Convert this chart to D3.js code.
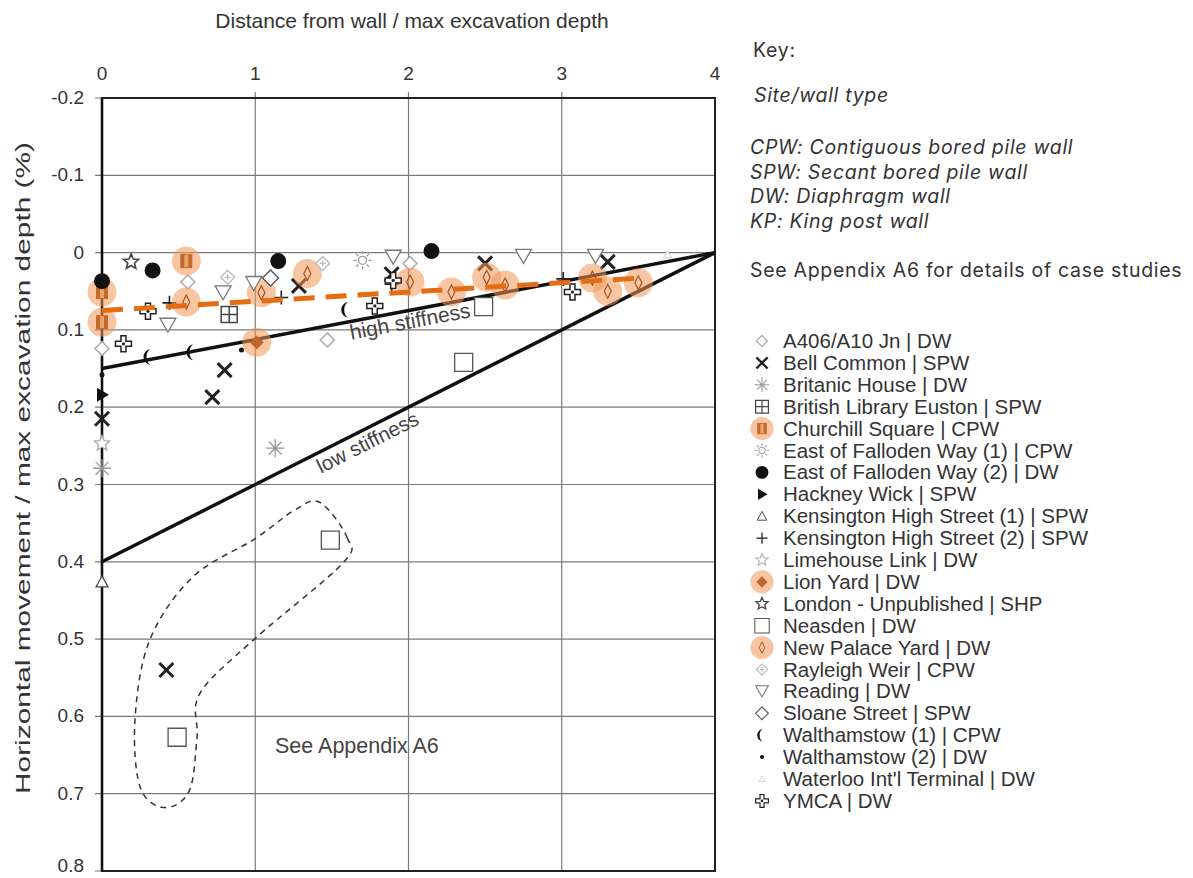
<!DOCTYPE html>
<html>
<head>
<meta charset="utf-8">
<script src="https://cdn.jsdelivr.net/npm/d3@7"></script>
<style>
body { margin: 0; background: #fff; }
text { fill: #333; }
</style>
</head>
<body>
<script>
// tick values
var xTicks = [0, 1, 2, 3, 4];
var yTicks = [-0.2, -0.1, 0, 0.1, 0.2, 0.3, 0.4, 0.5, 0.6, 0.7, 0.8];

// case study points: [distance / depth, movement / depth (%)]
var a406 = [[0.56, 0.038], [1.47, 0.113], [2.01, 0.014], [0, 0.124]];
var bellCommon = [[1.285, 0.043], [1.89, 0.028], [2.50, 0.014], [3.30, 0.012], [0.80, 0.152], [0.72, 0.187], [0, 0.215], [0.42, 0.54]];
var britanicHouse = [[1.13, 0.253], [0, 0.279]];
var britishLibrary = [[0.83, 0.08]];
var churchillSquare = [[0.55, 0.011], [0, 0.051], [0, 0.09]];
var fallodenCpw = [[1.70, 0.01]];
var fallodenDw = [[0.33, 0.023], [1.15, 0.011], [2.15, -0.002], [0, 0.037]];
var hackneyWick = [[0, 0.184]];
var kensington1 = [[0, 0.426]];
var kensington2 = [[0.44, 0.065], [1.17, 0.058], [3.01, 0.034], [1.89, 0.041]];
var limehouse = [[0, 0.247]];
var lionYard = [[1.01, 0.116]];
var londonUnpub = [[0.19, 0.012]];
var neasden = [[2.49, 0.07], [2.36, 0.142], [1.49, 0.372], [0.49, 0.627]];
var newPalaceYard = [[0.55, 0.064], [1.04, 0.052], [1.34, 0.027], [2.01, 0.038], [2.28, 0.051], [2.51, 0.032], [2.63, 0.042], [3.20, 0.033], [3.30, 0.05], [3.50, 0.039]];
var rayleighWeir = [[1.44, 0.014], [0.82, 0.032]];
var reading = [[0.43, 0.094], [0.79, 0.052], [0.99, 0.04], [1.90, 0.006], [2.75, 0.005], [3.22, 0.005]];
var sloaneStreet = [[1.10, 0.033]];
var walthamstow1 = [[0.31, 0.135], [0.59, 0.129], [1.60, 0.074]];
var walthamstow2 = [[0.91, 0.126], [0, 0.158]];
var waterloo = [[3.69, 0.003]];
var ymca = [[0.14, 0.118], [0.30, 0.076], [1.78, 0.069], [3.07, 0.051], [1.90, 0.036]];

var siteNames = ["A406/A10 Jn | DW", "Bell Common | SPW", "Britanic House | DW", "British Library Euston | SPW",
  "Churchill Square | CPW", "East of Falloden Way (1) | CPW", "East of Falloden Way (2) | DW", "Hackney Wick | SPW",
  "Kensington High Street (1) | SPW", "Kensington High Street (2) | SPW", "Limehouse Link | DW", "Lion Yard | DW",
  "London - Unpublished | SHP", "Neasden | DW", "New Palace Yard | DW", "Rayleigh Weir | CPW", "Reading | DW",
  "Sloane Street  | SPW", "Walthamstow (1) | CPW", "Walthamstow (2) | DW", "Waterloo Int'l Terminal | DW", "YMCA | DW"];
var siteData = [a406, bellCommon, britanicHouse, britishLibrary, churchillSquare, fallodenCpw, fallodenDw, hackneyWick,
  kensington1, kensington2, limehouse, lionYard, londonUnpub, neasden, newPalaceYard, rayleighWeir, reading,
  sloaneStreet, walthamstow1, walthamstow2, waterloo, ymca];
var siteMarkers = ["diamondLight", "cross", "asterisk", "gridSquare", "haloSquare", "sun", "dot", "triRight",
  "triUp", "plus", "starLight", "haloDiamond", "starDark", "square", "haloThin", "diamondCross", "triDown",
  "diamondDark", "crescent", "smallDot", "triTiny", "clover"];

// reference lines
var stiffX = [0, 4];
var highStiffY = [0.15, 0];
var lowStiffY = [0.4, 0];
var trendX = [0, 3.5];
var trendY = [0.075, 0.033];
// outline round the outliers (see Appendix A6)
var loopPts = [[1.42, 0.323], [1.60, 0.369], [1.57, 0.402], [1.0, 0.499], [0.64, 0.570], [0.62, 0.627],
  [0.57, 0.696], [0.41, 0.718], [0.25, 0.692], [0.215, 0.605], [0.31, 0.502], [0.59, 0.420], [1.0, 0.370], [1.25, 0.334]];

var keyLines = ["CPW: Contiguous bored pile wall", "SPW: Secant bored pile wall", "DW: Diaphragm wall", "KP: King post wall"];

var W = 1193, H = 878;
var x = d3.scaleLinear().domain([0, 4]).range([102, 715]);
var y = d3.scaleLinear().domain([-0.2, 0.8]).range([98, 871]);

var svg = d3.select("body").append("svg")
    .attr("width", W)
    .attr("height", H)
    .style("font-family", "'Liberation Sans', Arial, sans-serif");

// grid
svg.append("g").selectAll("line").data(xTicks.slice(1, 4)).enter().append("line")
    .attr("x1", function(d) { return x(d); }).attr("x2", function(d) { return x(d); })
    .attr("y1", y(-0.2) - 6).attr("y2", y(0.8))
    .style("stroke", "#7a7a7a").style("stroke-width", 1.2);
svg.append("g").selectAll("line").data(yTicks).enter().append("line")
    .attr("x1", x(0) - 7).attr("x2", x(4))
    .attr("y1", function(d) { return y(d); }).attr("y2", function(d) { return y(d); })
    .style("stroke", "#7a7a7a").style("stroke-width", 1.2);

// frame
svg.append("rect")
    .attr("x", x(0)).attr("y", y(-0.2))
    .attr("width", x(4) - x(0)).attr("height", y(0.8) - y(-0.2))
    .style("fill", "none").style("stroke", "#222").style("stroke-width", 2);
svg.append("line")
    .attr("x1", x(0)).attr("x2", x(0)).attr("y1", y(-0.2)).attr("y2", y(0.8))
    .style("stroke", "#111").style("stroke-width", 2.6);

// tick labels
svg.append("g").selectAll("text").data(xTicks).enter().append("text")
    .attr("x", function(d) { return x(d); }).attr("y", 80)
    .attr("text-anchor", "middle").style("font-size", "19px")
    .text(function(d) { return d; });
svg.append("g").selectAll("text").data(yTicks).enter().append("text")
    .attr("x", 84).attr("y", function(d) { return Math.min(y(d) + 6, 872); })
    .attr("text-anchor", "end").style("font-size", "19px")
    .text(function(d) { return d === 0 ? "0" : d.toFixed(1); });

// axis titles
svg.append("text").attr("x", 412).attr("y", 28).attr("text-anchor", "middle")
    .style("font-size", "21px").text("Distance from wall / max excavation depth");
svg.append("text").attr("transform", "translate(30,468) rotate(-90)").attr("text-anchor", "middle")
    .attr("textLength", 652).attr("lengthAdjust", "spacingAndGlyphs")
    .style("font-size", "20px").text("Horizontal movement / max excavation depth (%)");

// stiffness lines
var line = d3.line().x(function(d) { return x(d[0]); }).y(function(d) { return y(d[1]); });
[highStiffY, lowStiffY].forEach(function(ys) {
    svg.append("path")
        .datum(d3.zip(stiffX, ys))
        .attr("d", line)
        .style("fill", "none").style("stroke", "#111").style("stroke-width", 3.5);
});

// outlier loop
svg.append("path")
    .datum(loopPts)
    .attr("d", d3.line().x(function(d) { return x(d[0]); }).y(function(d) { return y(d[1]); }).curve(d3.curveCardinalClosed))
    .style("fill", "none").style("stroke", "#333").style("stroke-width", 1.5).style("stroke-dasharray", "6,5");

// line labels
function lineLabel(txt, x0, ys, off, fs) {
    var y0 = ys[0] + (ys[1] - ys[0]) * x0 / 4;
    var ang = Math.atan2(y(ys[1]) - y(ys[0]), x(4) - x(0)) * 180 / Math.PI;
    svg.append("text")
        .attr("transform", "translate(" + x(x0) + "," + y(y0) + ") rotate(" + ang + ")")
        .attr("y", off)
        .style("font-size", fs + "px").style("fill", "#444")
        .text(txt);
}
lineLabel("high stiffness", 1.605, highStiffY, 18, 21);
lineLabel("low stiffness", 1.37, lowStiffY, 20, 20.5);

svg.append("text").attr("x", 275).attr("y", 753)
    .style("font-size", "21.5px").style("fill", "#444").text("See Appendix A6");

// marker shapes
function starPath(r) {
    var p = [];
    for (var i = 0; i < 10; i++) {
        var rr = i % 2 === 0 ? r : r * 0.45;
        var a = -Math.PI / 2 + i * Math.PI / 5;
        p.push([rr * Math.cos(a), rr * Math.sin(a)]);
    }
    return "M" + p.join("L") + "Z";
}
var HALO = "rgba(242,150,85,0.55)";
function drawMarker(g, type) {
    function path(d, fill, stroke, sw) {
        g.append("path").attr("d", d).style("fill", fill || "none")
            .style("stroke", stroke || "none").style("stroke-width", sw || 1);
    }
    function halo() { g.append("circle").attr("r", 14.5).style("fill", HALO); }
    switch (type) {
    case "diamondLight": path("M0,-7L7,0L0,7L-7,0Z", "#fff", "#aaa", 1.5); break;
    case "cross": path("M-7,-7L7,7M7,-7L-7,7", null, "#222", 3); break;
    case "asterisk": path("M-9,0H9M0,-9V9M-6.4,-6.4L6.4,6.4M6.4,-6.4L-6.4,6.4", null, "#999", 1.3); break;
    case "gridSquare": path("M-8,-8H8V8H-8ZM0,-8V8M-8,0H8", "#fff", "#444", 1.5); break;
    case "haloSquare":
        halo();
        g.append("rect").attr("x", -6).attr("y", -7).attr("width", 12).attr("height", 14).style("fill", "#c26a2c");
        g.append("rect").attr("x", -2).attr("y", -6).attr("width", 4).attr("height", 12).style("fill", "#e9a368");
        break;
    case "sun":
        g.append("circle").attr("r", 4).style("fill", "#fff").style("stroke", "#999").style("stroke-width", 1.3);
        path("M0,-6V-9M0,6V9M-6,0H-9M6,0H9M-4.2,-4.2L-6.4,-6.4M4.2,4.2L6.4,6.4M4.2,-4.2L6.4,-6.4M-4.2,4.2L-6.4,6.4", null, "#999", 1.3);
        break;
    case "dot": g.append("circle").attr("r", 8).style("fill", "#111"); break;
    case "triRight": path("M-5,-7L7,0L-5,7Z", "#111"); break;
    case "triUp": path("M0,-6L6,5H-6Z", "#fff", "#444", 1.2); break;
    case "plus": path("M-7,0H7M0,-7V7", null, "#222", 1.6); break;
    case "starLight": path(starPath(8), "#fff", "#aaa", 1.3); break;
    case "haloDiamond": halo(); path("M0,-7L7,0L0,7L-7,0Z", "#c0642a"); break;
    case "starDark": path(starPath(8), "#fff", "#444", 1.6); break;
    case "square": path("M-9,-9H9V9H-9Z", "#fff", "#555", 1.3); break;
    case "haloThin": halo(); path("M0,-7L3.5,0L0,7L-3.5,0Z", "none", "#a5521c", 1.2); break;
    case "diamondCross": path("M0,-7L7,0L0,7L-7,0ZM-3,0H3M0,-3V3", "#fff", "#bbb", 1.4); break;
    case "triDown": path("M-8,-7H8L0,7Z", "#fff", "#777", 1.3); break;
    case "diamondDark": path("M0,-8L8,0L0,8L-8,0Z", "#fff", "#555", 1.4); break;
    case "crescent": path("M2,-8A8,8 0 1,0 2,8A5,8 0 1,1 2,-8Z", "#111"); break;
    case "smallDot": g.append("circle").attr("r", 2.5).style("fill", "#111"); break;
    case "triTiny": path("M0,-4L4,3H-4Z", "#fff", "#ccc", 1); break;
    case "clover":
        path("M-2.5,-8H2.5V-2.5H8V2.5H2.5V8H-2.5V2.5H-8V-2.5H-2.5Z", "#fff", "#222", 1.5);
        g.append("circle").attr("r", 1.6).style("fill", "#222");
        break;
    }
}

// points
siteData.forEach(function(pts, i) {
    svg.append("g").selectAll("g").data(pts).enter().append("g")
        .attr("transform", function(d) { return "translate(" + x(d[0]) + "," + y(d[1]) + ")"; })
        .each(function() { drawMarker(d3.select(this), siteMarkers[i]); });
});

// trend line
svg.append("path")
    .datum(d3.zip(trendX, trendY))
    .attr("d", line)
    .style("fill", "none").style("stroke", "#e46d14").style("stroke-width", 5).style("stroke-dasharray", "21,11");

// key
var key = svg.append("g").style("font-family", "Inter, 'Open Sans', sans-serif").style("font-size", "19.5px")
    .style("letter-spacing", "0.7px");
key.append("text").attr("x", 753).attr("y", 57).text("Key:");
key.append("text").attr("x", 754).attr("y", 102).style("font-style", "italic").text("Site/wall type");
key.selectAll(".kl").data(keyLines).enter().append("text")
    .attr("x", 750).attr("y", function(d, i) { return 154 + i * 24.5; })
    .style("font-style", "italic").text(function(d) { return d; });
key.append("text").attr("x", 750).attr("y", 277).text("See Appendix A6 for details of case studies");

// legend
var leg = svg.append("g").selectAll("g").data(siteNames).enter().append("g")
    .attr("transform", function(d, i) { return "translate(762," + (341 + i * 21.9) + ")"; });
leg.each(function(d, i) {
    var m = d3.select(this).append("g").attr("transform", "scale(0.8)");
    drawMarker(m, siteMarkers[i]);
});
leg.append("text").attr("x", 21).attr("y", 7).style("font-size", "20.5px").text(function(d) { return d; });
</script>
</body>
</html>
